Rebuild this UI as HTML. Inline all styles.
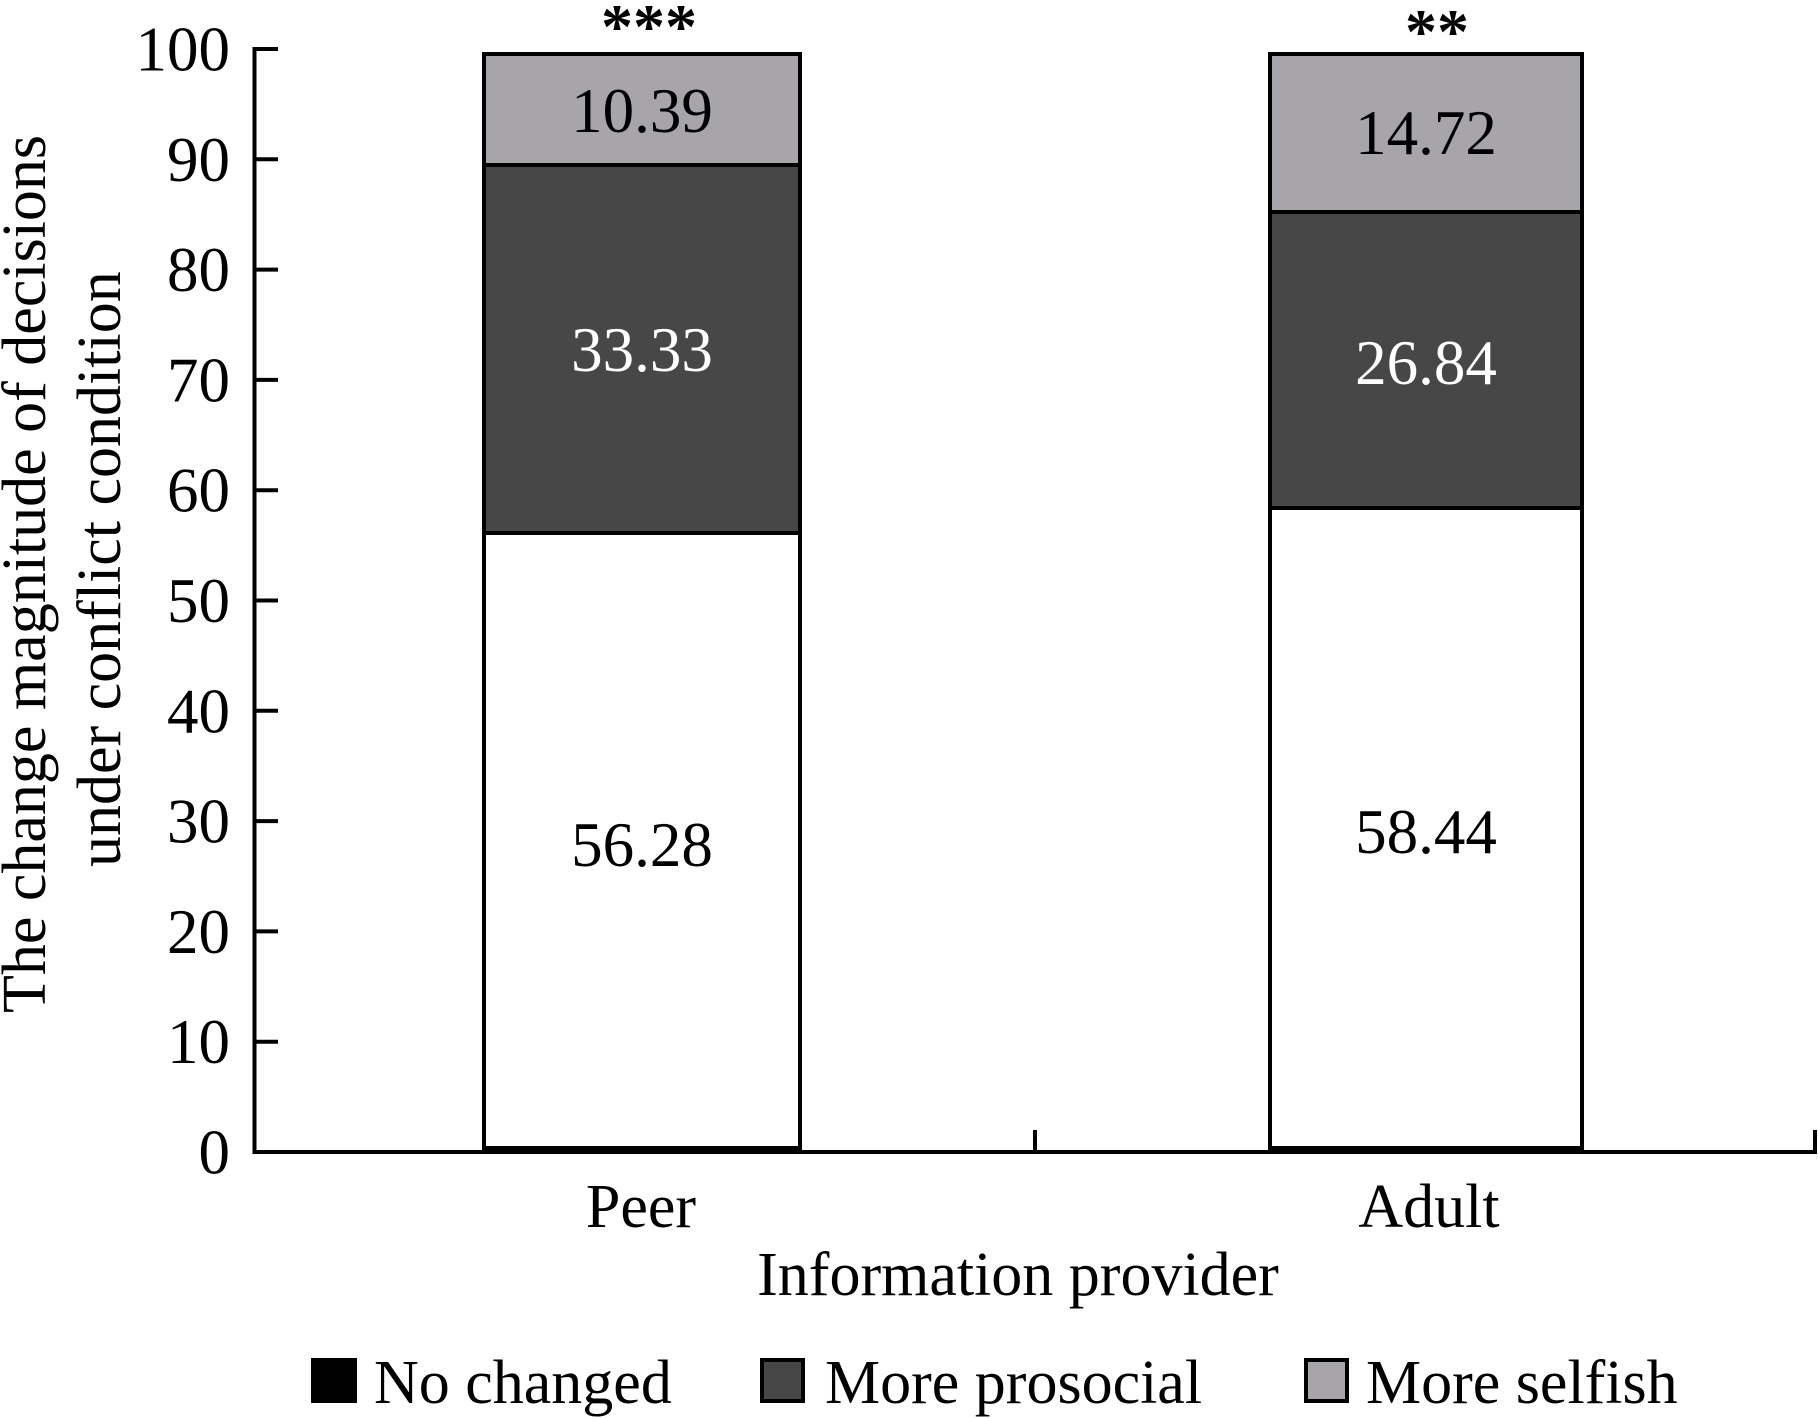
<!DOCTYPE html>
<html>
<head>
<meta charset="utf-8">
<style>
  html, body { margin: 0; padding: 0; background: #ffffff; }
  svg { display: block; }
  text { font-family: "Liberation Serif", "Times New Roman", serif; fill: #000; }
</style>
</head>
<body>
<svg width="1818" height="1418" viewBox="0 0 1818 1418" xmlns="http://www.w3.org/2000/svg">
  <rect x="0" y="0" width="1818" height="1418" fill="#ffffff"/>

  <!-- Y axis title -->
  <text font-size="62" transform="translate(45,1013) rotate(-90)">The change magnitude of decisions</text>
  <text font-size="62" transform="translate(120,867) rotate(-90)">under conflict condition</text>

  <!-- Y tick labels -->
  <g font-size="63" text-anchor="end">
    <text x="230" y="70.5">100</text>
    <text x="230" y="180.8">90</text>
    <text x="230" y="291.1">80</text>
    <text x="230" y="401.4">70</text>
    <text x="230" y="511.7">60</text>
    <text x="230" y="622">50</text>
    <text x="230" y="732.3">40</text>
    <text x="230" y="842.6">30</text>
    <text x="230" y="952.9">20</text>
    <text x="230" y="1063.2">10</text>
    <text x="230" y="1173.5">0</text>
  </g>

  <!-- Bars: Peer -->
  <g stroke="#000" stroke-width="4">
    <rect x="484" y="54" width="316" height="111" fill="#a7a5aa"/>
    <rect x="484" y="165" width="316" height="368" fill="#474747"/>
    <rect x="484" y="533" width="316" height="615" fill="#ffffff"/>
    <!-- Adult -->
    <rect x="1270" y="54" width="312" height="158" fill="#a7a5aa"/>
    <rect x="1270" y="212" width="312" height="296" fill="#474747"/>
    <rect x="1270" y="508" width="312" height="640" fill="#ffffff"/>
  </g>
  <!-- No changed (tiny black segments) -->
  <rect x="482" y="1146" width="320" height="6" fill="#000"/>
  <rect x="1268" y="1146" width="316" height="6" fill="#000"/>

  <!-- Axes -->
  <g stroke="#000" stroke-width="4" fill="none">
    <line x1="254.5" y1="47" x2="254.5" y2="1154"/>
    <line x1="253" y1="1152" x2="1817" y2="1152"/>
    <!-- y ticks -->
    <line x1="254" y1="49" x2="278" y2="49"/>
    <line x1="254" y1="159.3" x2="278" y2="159.3"/>
    <line x1="254" y1="269.6" x2="278" y2="269.6"/>
    <line x1="254" y1="379.9" x2="278" y2="379.9"/>
    <line x1="254" y1="490.2" x2="278" y2="490.2"/>
    <line x1="254" y1="600.5" x2="278" y2="600.5"/>
    <line x1="254" y1="710.8" x2="278" y2="710.8"/>
    <line x1="254" y1="821.1" x2="278" y2="821.1"/>
    <line x1="254" y1="931.4" x2="278" y2="931.4"/>
    <line x1="254" y1="1041.7" x2="278" y2="1041.7"/>
    <!-- x ticks -->
    <line x1="1035" y1="1130" x2="1035" y2="1152"/>
    <line x1="1815" y1="1130" x2="1815" y2="1152"/>
  </g>

  <!-- Bar value labels -->
  <g font-size="63" text-anchor="middle">
    <text x="642" y="132">10.39</text>
    <text x="642" y="371" fill="#ffffff" style="fill:#ffffff">33.33</text>
    <text x="642" y="866">56.28</text>
    <text x="1426" y="154">14.72</text>
    <text x="1426" y="384" fill="#ffffff" style="fill:#ffffff">26.84</text>
    <text x="1426" y="853">58.44</text>
  </g>

  <!-- Significance stars -->
  <g font-size="64" font-weight="bold" text-anchor="middle">
    <text x="649" y="48">***</text>
    <text x="1437" y="53">**</text>
  </g>

  <!-- Category labels -->
  <g font-size="62" text-anchor="middle">
    <text x="641" y="1227">Peer</text>
    <text x="1429" y="1227">Adult</text>
    <text x="1018" y="1295">Information provider</text>
  </g>

  <!-- Legend -->
  <rect x="311" y="1358" width="46" height="45" fill="#000"/>
  <text x="374" y="1403" font-size="62">No changed</text>
  <rect x="762" y="1360" width="41" height="41" fill="#474747" stroke="#000" stroke-width="4"/>
  <text x="825" y="1403" font-size="62">More prosocial</text>
  <rect x="1306" y="1360" width="41" height="41" fill="#a7a5aa" stroke="#000" stroke-width="4"/>
  <text x="1366" y="1403" font-size="62">More selfish</text>
</svg>
</body>
</html>
